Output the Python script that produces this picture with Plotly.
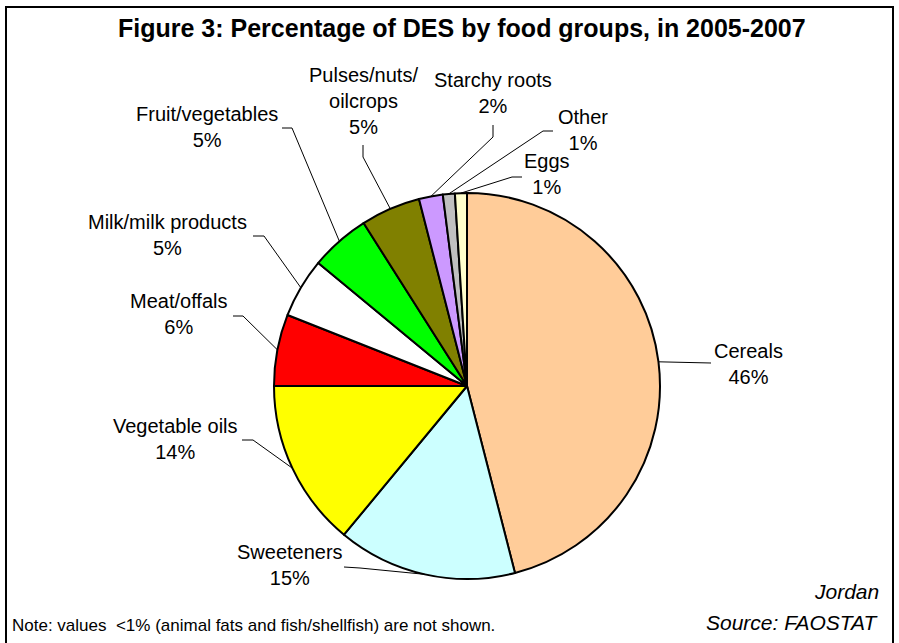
import math
import plotly.graph_objects as go

# Share of dietary energy supply (DES) by food group, Jordan 2005-2007
groups = ["Cereals", "Sweeteners", "Vegetable oils", "Meat/offals", "Milk/milk products",
          "Fruit/vegetables", "Pulses/nuts/<br>oilcrops", "Starchy roots", "Other", "Eggs"]
shares = [46, 15, 14, 6, 5, 5, 5, 2, 1, 1]
colors = ["#FFCC99", "#CCFFFF", "#FFFF00", "#FF0000", "#FFFFFF",
          "#00FF00", "#808000", "#CC99FF", "#C0C0C0", "#FFFFCC"]

W, H = 899, 643
CX, CY, R = 467, 386, 193  # pie centre and radius in pixels

# label block centre, leader-line anchor next to the label, elbow point
label_pos = [(748, 364), (290, 565), (175, 439), (178, 314), (167, 235),
             (207, 127), (363, 101), (493, 93), (583, 130), (547, 174)]
anchor_pos = [(711, 363), (344, 567), (242, 440), (233, 316), (253, 236),
              (282, 128), (363, 145), (493, 125), (553, 131), (522, 177)]
elbow_pos = [(711, 363), (360, 568), (253, 440), (243, 316), (264, 236),
             (292, 128), (363, 157), (493, 137), (543, 131), (512, 177)]


def px(x):
    return x / W


def py(y):
    return 1 - y / H


fig = go.Figure(go.Pie(
    labels=[g.replace("<br>", "") for g in groups],
    values=shares,
    sort=False,
    direction="clockwise",
    rotation=0,
    textinfo="none",
    hoverinfo="label+percent",
    marker=dict(colors=colors, line=dict(color="#000000", width=2)),
    domain=dict(x=[px(CX - R), px(CX + R)], y=[py(CY + R), py(CY - R)]),
    showlegend=False,
))

shapes = []
annotations = []
total = sum(shares)
cum = 0
for i, (g, v) in enumerate(zip(groups, shares)):
    mid = (cum + v / 2) / total * 2 * math.pi
    cum += v
    ex_, ey_ = CX + R * math.sin(mid), CY - R * math.cos(mid)
    ax_, ay_ = anchor_pos[i]
    bx_, by_ = elbow_pos[i]
    path = (f"M {px(ax_)} {py(ay_)} L {px(bx_)} {py(by_)} L {px(ex_)} {py(ey_)}")
    shapes.append(dict(type="path", xref="paper", yref="paper", path=path,
                       line=dict(color="#000000", width=1)))
    lx, ly = label_pos[i]
    annotations.append(dict(
        x=px(lx), y=py(ly), xref="paper", yref="paper", showarrow=False,
        xanchor="center", yanchor="middle", align="center",
        text=f"{g}<br>{v}%",
        font=dict(family="Liberation Sans, Arial, sans-serif", size=20, color="#000000"),
    ))

# outer frame
shapes.append(dict(type="rect", xref="paper", yref="paper",
                   x0=px(6), x1=px(893), y0=py(660), y1=py(7),
                   line=dict(color="#000000", width=2)))

annotations += [
    dict(x=px(462), y=py(28), xref="paper", yref="paper", showarrow=False,
         xanchor="center", yanchor="middle",
         text="<b>Figure 3: Percentage of DES by food groups, in 2005-2007</b>",
         font=dict(family="Liberation Sans, Arial, sans-serif", size=25, color="#000000")),
    dict(x=px(10), y=py(625), xref="paper", yref="paper", showarrow=False,
         xanchor="left", yanchor="middle",
         text="Note: values  <1% (animal fats and fish/shellfish) are not shown.",
         font=dict(family="Liberation Sans, Arial, sans-serif", size=17, color="#000000")),
    dict(x=px(881), y=py(591), xref="paper", yref="paper", showarrow=False,
         xanchor="right", yanchor="middle", text="<i>Jordan</i>",
         font=dict(family="Liberation Sans, Arial, sans-serif", size=21, color="#000000")),
    dict(x=px(881), y=py(622), xref="paper", yref="paper", showarrow=False,
         xanchor="right", yanchor="middle", text="<i>Source: FAOSTAT</i>",
         font=dict(family="Liberation Sans, Arial, sans-serif", size=21, color="#000000")),
]

fig.update_layout(
    width=W, height=H,
    margin=dict(l=0, r=0, t=0, b=0),
    paper_bgcolor="#FFFFFF",
    plot_bgcolor="#FFFFFF",
    shapes=shapes,
    annotations=annotations,
)

fig.write_html("out.html")
